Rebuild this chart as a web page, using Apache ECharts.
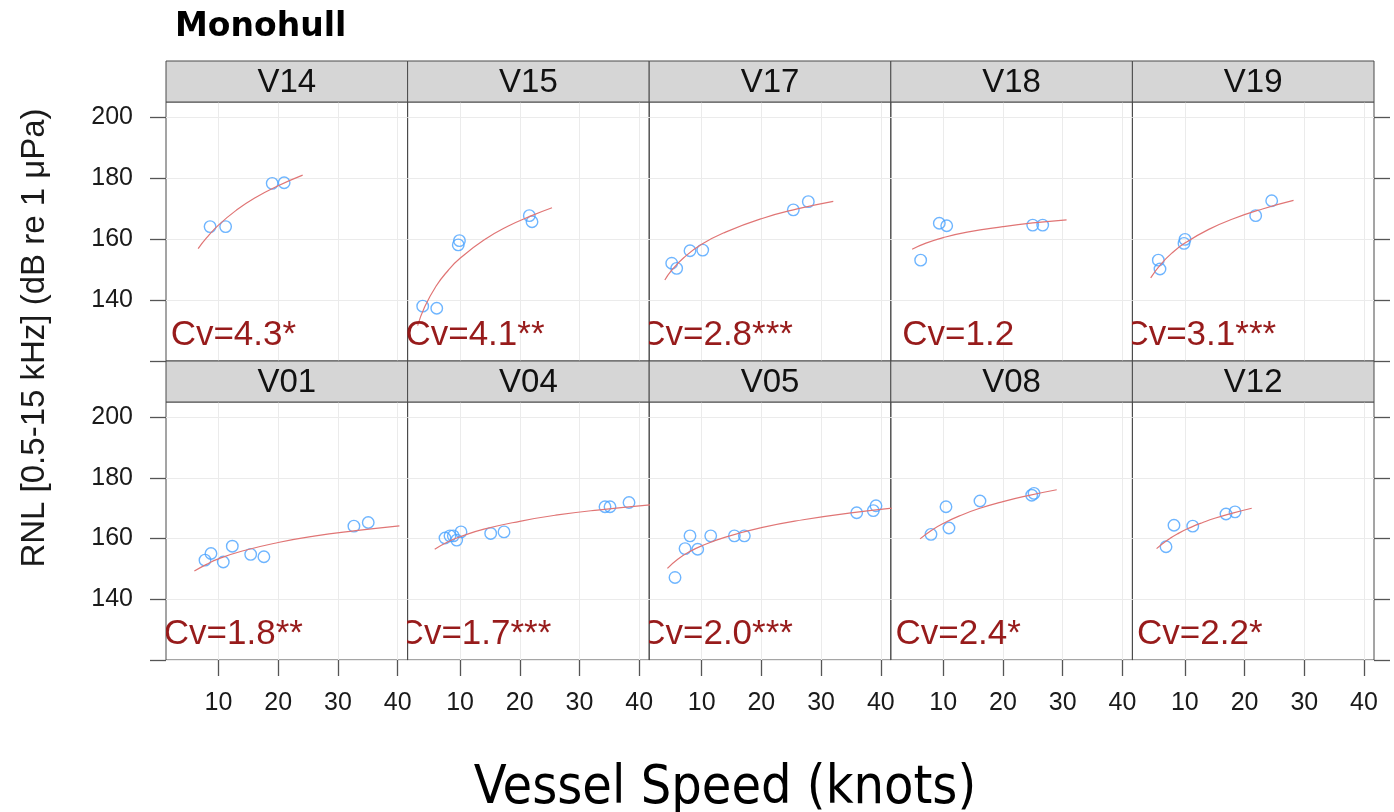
<!DOCTYPE html>
<html><head><meta charset="utf-8">
<script src="https://cdn.jsdelivr.net/npm/echarts@6/dist/echarts.min.js"></script>
<style>html,body{margin:0;padding:0;background:#fff}#chart{width:1394px;height:812px}</style>
</head><body><div id="chart"></div>
<script>
// ---------- data ----------
const panelNames = ['V14','V15','V17','V18','V19','V01','V04','V05','V08','V12'];
const cvLabels = ['Cv=4.3*','Cv=4.1**','Cv=2.8***','Cv=1.2','Cv=3.1***','Cv=1.8**','Cv=1.7***','Cv=2.0***','Cv=2.4*','Cv=2.2*'];

const v14Speed = [8.6, 11.2, 19.0, 21.0];
const v14RNL   = [164.1, 164.1, 178.3, 178.5];
const v14FitSpeed = [6.6, 8, 10, 13, 16, 20, 24.1];
const v14FitRNL   = [156.9, 160.4, 164.6, 169.5, 173.4, 177.5, 181.0];

const v15Speed = [3.75, 6.1, 9.9, 9.7, 21.6, 22.05];
const v15RNL   = [138.0, 137.3, 159.5, 158.1, 167.7, 165.7];
const v15FitSpeed = [2.9, 4, 6, 8, 10, 14, 18, 22, 25.4];
const v15FitRNL   = [131.6, 137.4, 144.6, 149.7, 153.7, 159.7, 164.2, 167.7, 170.3];

const v17Speed = [4.99, 5.82, 8.05, 10.18, 25.35, 27.86];
const v17RNL   = [152.1, 150.4, 156.2, 156.4, 169.6, 172.3];
const v17FitSpeed = [3.84, 5, 7, 10, 14, 20, 26, 32.04];
const v17FitRNL   = [146.6, 149.8, 153.9, 158.3, 162.3, 166.7, 169.9, 172.4];

const v18Speed = [6.22, 9.34, 10.58, 24.98, 26.65];
const v18RNL   = [153.1, 165.2, 164.4, 164.6, 164.6];
const v18FitSpeed = [4.79, 7, 10, 14, 20, 25, 30.65];
const v18FitRNL   = [156.7, 158.6, 160.5, 162.3, 164.1, 165.3, 166.3];

const v19Speed = [5.56, 5.84, 10.03, 9.86, 21.86, 24.54];
const v19RNL   = [153.1, 150.2, 159.9, 158.6, 167.7, 172.6];
const v19FitSpeed = [4.28, 6, 8, 10, 14, 18, 23, 28.2];
const v19FitRNL   = [147.3, 151.8, 155.7, 158.7, 163.2, 166.6, 169.9, 172.7];

const v01Speed = [7.75, 8.75, 10.81, 12.32, 15.4, 17.61, 32.68, 35.08];
const v01RNL   = [152.9, 155.1, 152.3, 157.5, 154.8, 154.0, 164.1, 165.3];
const v01FitSpeed = [5.97, 8, 10, 14, 20, 26, 33, 40.3];
const v01FitRNL   = [149.3, 151.5, 153.3, 155.9, 158.7, 160.8, 162.6, 164.2];

const v04Speed = [7.48, 8.32, 8.87, 9.44, 10.16, 15.13, 17.36, 34.27, 35.11, 38.29];
const v04RNL   = [160.2, 160.9, 160.9, 159.5, 162.2, 161.7, 162.2, 170.5, 170.5, 171.9];
const v04FitSpeed = [5.76, 8, 10, 14, 20, 26, 33, 44];
const v04FitRNL   = [156.5, 158.95, 160.6, 163.1, 165.7, 167.7, 169.4, 171.5];

const v05Speed = [5.54, 7.22, 8.05, 9.34, 11.52, 15.48, 17.15, 35.96, 38.74, 39.19];
const v05RNL   = [147.2, 156.7, 160.9, 156.5, 160.9, 160.9, 160.9, 168.5, 169.2, 170.8];
const v05FitSpeed = [4.27, 6, 8, 10, 14, 20, 27, 35, 45.1];
const v05FitRNL   = [150.2, 153.2, 155.7, 157.6, 160.5, 163.6, 166.2, 168.5, 170.7];

const v08Speed = [7.95, 10.46, 10.96, 16.15, 24.81, 25.2];
const v08RNL   = [161.4, 170.5, 163.5, 172.4, 174.3, 174.9];
const v08FitSpeed = [6.12, 8, 10, 13, 16, 20, 24, 29];
const v08FitRNL   = [159.9, 162.7, 165.0, 167.7, 169.9, 172.2, 174.1, 176.1];

const v12Speed = [6.85, 8.18, 11.32, 16.89, 18.4];
const v12RNL   = [157.3, 164.4, 164.1, 168.1, 168.8];
const v12FitSpeed = [5.27, 7, 9, 11, 13, 15, 18, 21.2];
const v12FitRNL   = [156.7, 159.4, 161.8, 163.7, 165.3, 166.7, 168.4, 170.0];

const xTickValues = [10, 20, 30, 40];
const yTickValues = [120, 140, 160, 180, 200];
const yLabelValues = [140, 160, 180, 200];

const speedLists = [v14Speed, v15Speed, v17Speed, v18Speed, v19Speed, v01Speed, v04Speed, v05Speed, v08Speed, v12Speed];
const rnlLists   = [v14RNL, v15RNL, v17RNL, v18RNL, v19RNL, v01RNL, v04RNL, v05RNL, v08RNL, v12RNL];
const fitSpeedLists = [v14FitSpeed, v15FitSpeed, v17FitSpeed, v18FitSpeed, v19FitSpeed, v01FitSpeed, v04FitSpeed, v05FitSpeed, v08FitSpeed, v12FitSpeed];
const fitRNLLists   = [v14FitRNL, v15FitRNL, v17FitRNL, v18FitRNL, v19FitRNL, v01FitRNL, v04FitRNL, v05FitRNL, v08FitRNL, v12FitRNL];

// ---------- layout ----------
const LEFT0 = 166, PANEL_W = 241.6;
const ROW_TOP = [102, 402], ROW_H = [259, 258], STRIP_TOP = [61, 361], STRIP_H = 41;
const X_MIN = 1.22, X_MAX = 41.67, Y_MIN = 120, Y_MAX = 205;
const CV_POS = [12.5, 128.5];
const SANS = '"Liberation Sans", Arial, sans-serif';

const grids = [], xAxes = [], yAxes = [], series = [], graphics = [];

panelNames.forEach((name, i) => {
  const row = Math.floor(i / 5), col = i % 5;
  const left = LEFT0 + col * PANEL_W;
  grids.push({left: left, top: ROW_TOP[row], width: PANEL_W, height: ROW_H[row],
    show: true, borderColor: '#4a4a4a', borderWidth: 1, backgroundColor: 'transparent'});
  xAxes.push({gridIndex: i, type: 'value', min: X_MIN, max: X_MAX,
    axisLine: {show: false},
    axisTick: {show: row === 1, length: 16, customValues: xTickValues, lineStyle: {color: '#555', width: 1.3}},
    axisLabel: {show: row === 1, customValues: xTickValues, fontSize: 25, fontFamily: SANS, color: '#1a1a1a', margin: 31},
    splitLine: {show: true, lineStyle: {color: '#ebebeb', width: 1}}
  });
  const yIdx = yAxes.length;
  yAxes.push({gridIndex: i, type: 'value', min: Y_MIN, max: Y_MAX,
    axisLine: {show: false},
    axisTick: {show: col === 0, length: 16, customValues: yTickValues, lineStyle: {color: '#555', width: 1.3}},
    axisLabel: {show: col === 0, customValues: yLabelValues, fontSize: 25, fontFamily: SANS, color: '#1a1a1a', margin: 33},
    splitLine: {show: true, lineStyle: {color: '#ebebeb', width: 1}}
  });
  if (col === 4) {
    yAxes.push({gridIndex: i, type: 'value', position: 'right', min: Y_MIN, max: Y_MAX,
      axisLine: {show: false},
      axisTick: {show: true, length: 16, customValues: yTickValues, lineStyle: {color: '#555', width: 1.3}},
      axisLabel: {show: false}, splitLine: {show: false}
    });
  }
  series.push({type: 'line', xAxisIndex: i, yAxisIndex: yIdx, smooth: true, showSymbol: false, silent: true,
    clip: true, lineStyle: {color: '#e07575', width: 1.2},
    data: fitSpeedLists[i].map((s, k) => [s, fitRNLLists[i][k]]), z: 3});
  series.push({type: 'scatter', xAxisIndex: i, yAxisIndex: yIdx, symbol: 'circle', symbolSize: 11.5,
    itemStyle: {color: 'rgba(0,0,0,0)', borderColor: '#4aa2ff', borderWidth: 1.4},
    data: speedLists[i].map((s, k) => [s, rnlLists[i][k]]), z: 2});
  series.push({type: 'custom', xAxisIndex: i, yAxisIndex: yIdx, clip: true, silent: true,
    data: [CV_POS],
    renderItem: (params, api) => {
      const p = api.coord([api.value(0), api.value(1)]);
      return {type: 'text', x: p[0], y: p[1], style: {text: cvLabels[i], fill: '#971b1b',
        font: '35px ' + SANS, align: 'center', verticalAlign: 'middle'}};
    }, z: 4});
  graphics.push({type: 'rect', shape: {x: left, y: STRIP_TOP[row], width: PANEL_W, height: STRIP_H},
    style: {fill: '#d6d6d6', stroke: '#4a4a4a', lineWidth: 1}, z: 1});
  graphics.push({type: 'text', x: left + PANEL_W / 2, y: STRIP_TOP[row] + STRIP_H / 2 + 1,
    style: {text: name, font: '33px ' + SANS, fill: '#111', align: 'center', verticalAlign: 'middle'}, z: 2});
});

graphics.push({type: 'text', x: 175, y: 27,
  style: {text: 'Monohull', font: 'bold 33px "DejaVu Sans", Verdana, sans-serif', fill: '#000', align: 'left', verticalAlign: 'middle'}});
graphics.push({type: 'text', x: 35, y: 338, rotation: Math.PI / 2,
  style: {text: 'RNL [0.5-15 kHz] (dB re 1 μPa)', font: '33px ' + SANS, fill: '#1a1a1a', align: 'center', verticalAlign: 'middle'}});
graphics.push({type: 'text', x: 725, y: 789,
  style: {text: 'Vessel Speed (knots)', font: '53.5px "DejaVu Sans Condensed", "DejaVu Sans", sans-serif', fill: '#000', align: 'center', verticalAlign: 'middle'}});

const chart = echarts.init(document.getElementById('chart'), null, {renderer: 'canvas'});
chart.setOption({
  animation: false,
  backgroundColor: '#fff',
  grid: grids, xAxis: xAxes, yAxis: yAxes, series: series,
  graphic: {elements: graphics}
});
</script></body></html>
